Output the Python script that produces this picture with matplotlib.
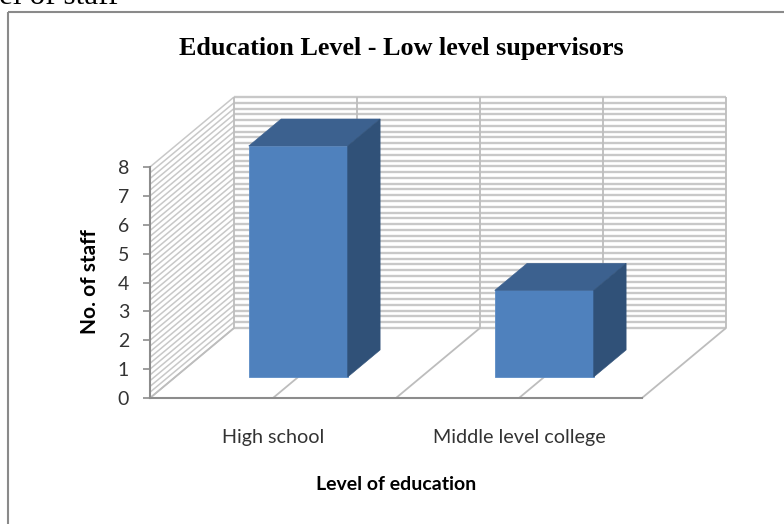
import matplotlib
matplotlib.use("Agg")
import matplotlib.pyplot as plt
from matplotlib.lines import Line2D
from matplotlib.patches import Polygon

categories = ["High school", "Middle level college"]
staff = [8, 3]
y_ticks = [0, 1, 2, 3, 4, 5, 6, 7, 8]
title = "Education Level - Low level supervisors"
x_label = "Level of education"
y_label = "No. of staff"
clipped_caption = "el of staff"

W, H = 784, 524
fig = plt.figure(figsize=(W / 100, H / 100), dpi=100, facecolor="white")
L, R, B, T = 150, 642, 398, 167
ax = fig.add_axes([L / W, 1 - B / H, (R - L) / W, (B - T) / H])
ax.set_xlim(0, 2)
ax.set_ylim(0, 8)
ax.patch.set_visible(False)
for s in ["top", "right"]:
    ax.spines[s].set_visible(False)
for s in ["left", "bottom"]:
    ax.spines[s].set_color("#8c8c8c")
    ax.spines[s].set_linewidth(1.5)

# oblique depth: full depth shift in data units
DX = 84 / ((R - L) / 2)
DY = 70 / ((B - T) / 8)
def P(x, y, d):
    return (x + d * DX, y + d * DY)

grid = "#c8c8c8"
kw = dict(clip_on=False, zorder=1, solid_capstyle="butt")
for i in range(41):
    v = i * 0.2
    a, b, c = P(0, v, 0), P(0, v, 1), P(2, v, 1)
    ax.plot([a[0], b[0]], [a[1], b[1]], color=grid, lw=1.1, **kw)
    ax.plot([b[0], c[0]], [b[1], c[1]], color=grid, lw=1.7, **kw)
for x in [0, 0.5, 1, 1.5, 2]:
    a, b, c = P(x, 0, 0), P(x, 0, 1), P(x, 8, 1)
    ax.plot([a[0], b[0], c[0]], [a[1], b[1], c[1]], color="#bdbdbd", lw=1.3, **kw)

d0, d1 = 0.3, 0.686
half = 99 / 246 / 2
for i, v in enumerate(staff):
    x0, x1 = i + 0.5 - half, i + 0.5 + half
    ax.add_patch(Polygon([P(x0, 0, d0), P(x1, 0, d0), P(x1, v, d0), P(x0, v, d0)], closed=True,
                         fc="#4f81bd", ec="#5b8cc6", lw=0.6, zorder=3, clip_on=False))
    ax.add_patch(Polygon([P(x0, v, d0), P(x1, v, d0), P(x1, v, d1), P(x0, v, d1)], closed=True,
                         fc="#3c618f", ec="#3c618f", lw=0.4, zorder=3, clip_on=False))
    ax.add_patch(Polygon([P(x1, 0, d0), P(x1, 0, d1), P(x1, v, d1), P(x1, v, d0)], closed=True,
                         fc="#305178", ec="#305178", lw=0.4, zorder=3, clip_on=False))

font = "Lato"
ax.set_yticks(y_ticks)
ax.set_yticklabels([str(t) for t in y_ticks], fontfamily=font, fontsize=14, color="#333333")
ax.set_xticks([0.5, 1.5])
ax.set_xticklabels(categories, fontfamily=font, fontsize=14.2, color="#333333")
ax.tick_params(axis="y", length=5, width=1.2, color="#8c8c8c", pad=10)
ax.tick_params(axis="x", length=0, pad=22.5)

fig.text(396 / W, 1 - 484 / H, x_label, ha="center", va="center", fontfamily=font, fontsize=14, fontweight="bold", color="black")
fig.text(90 / W, 1 - 282 / H, y_label, ha="center", va="center", rotation=90, fontfamily=font, fontsize=15, fontweight="bold", color="black")
fig.text(401.5 / W, 1 - 49 / H, title, ha="center", va="center", fontfamily="Liberation Serif", fontsize=18.8, fontweight="bold", color="black")
fig.text(-1 / W, 1 - 4 / H, clipped_caption, ha="left", va="baseline", fontfamily="Liberation Serif", fontsize=22.5, color="black")

frame = dict(transform=fig.transFigure, color="#8a8a8a", lw=1.5, solid_capstyle="butt")
fig.add_artist(Line2D([7.5 / W, 7.5 / W], [0, 1 - 11.5 / H], **frame))
fig.add_artist(Line2D([7.5 / W, 1], [1 - 11.5 / H, 1 - 11.5 / H], **frame))
fig.savefig("out.png", dpi=100)
